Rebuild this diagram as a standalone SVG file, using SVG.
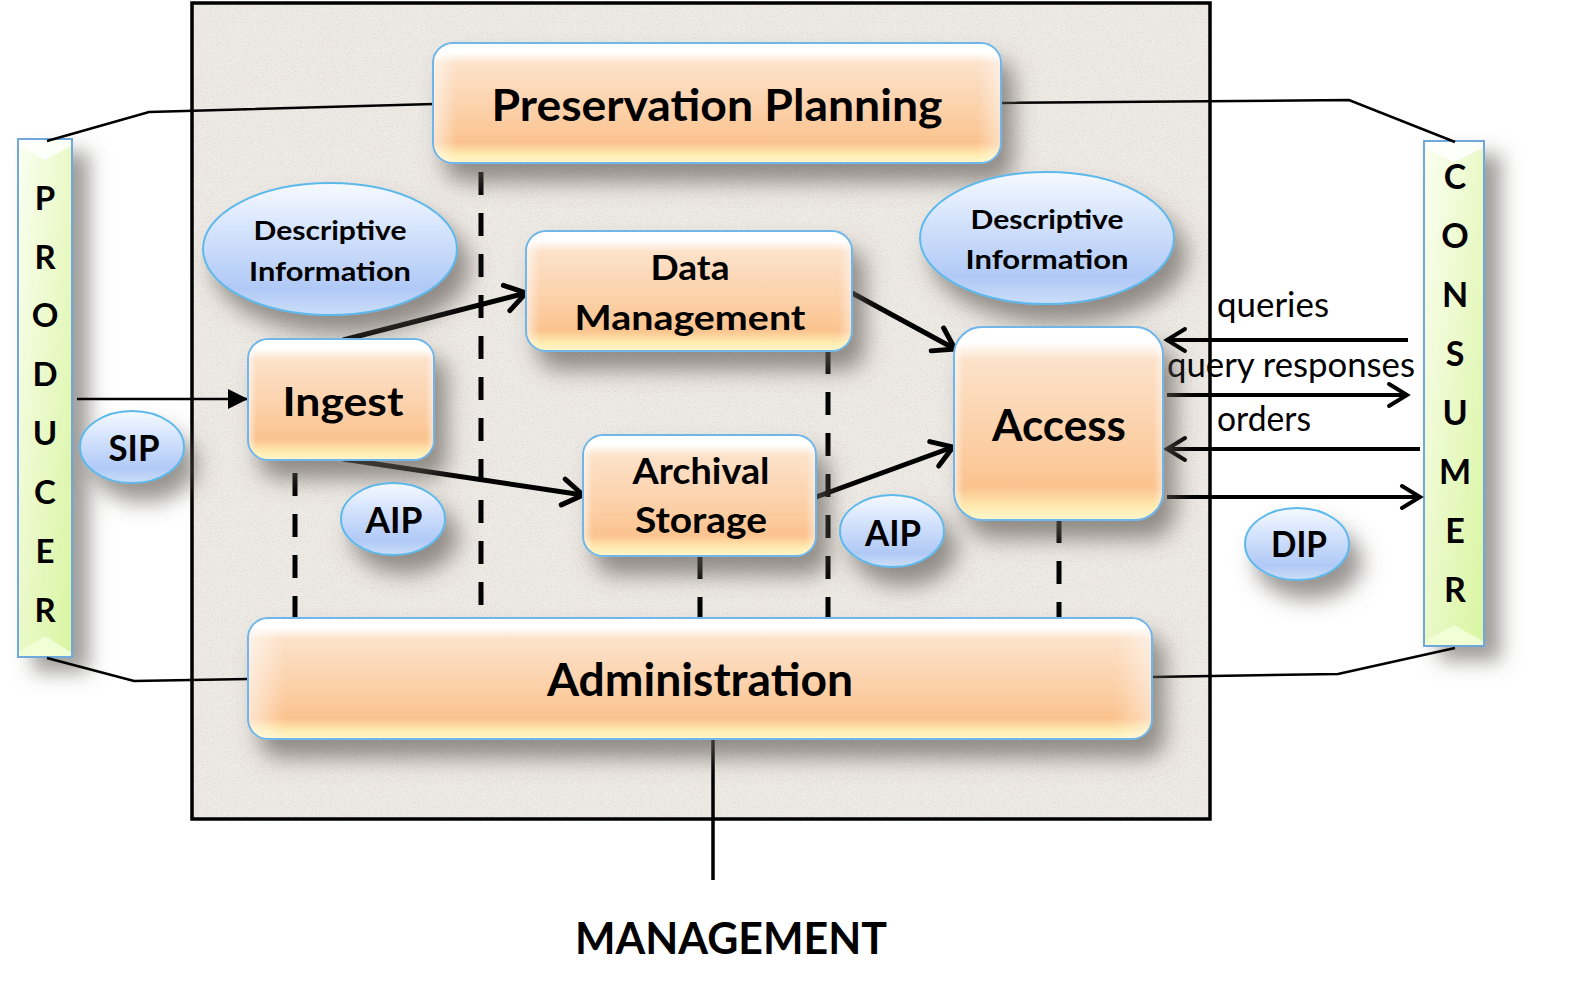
<svg xmlns="http://www.w3.org/2000/svg" width="1590" height="983" viewBox="0 0 1590 983">
<defs>
<style>
.b{font-family:Lato,"Open Sans","Liberation Sans",sans-serif;font-weight:700;fill:#000;text-anchor:middle}
.r{font-family:Lato,"Open Sans","Liberation Sans",sans-serif;font-weight:400;fill:#000}
.box{fill:url(#gBox);stroke:#6FB6EA;stroke-width:2}
.hl{fill:url(#gEdge)}
.ell{fill:url(#gEll);stroke:#5DB9EC;stroke-width:2}
.bar{fill:url(#gBar);stroke:#6FA8DC;stroke-width:2}
.ln{fill:none;stroke:#000;stroke-width:2.5}
.dash{fill:none;stroke:#000;stroke-width:5;stroke-dasharray:23 18}
.thick{fill:none;stroke:#000;stroke-width:5;marker-end:url(#vBig)}
.thin{fill:none;stroke:#000;stroke-width:4;marker-end:url(#vSmall)}
</style>
<linearGradient id="gBox" x1="0" y1="0" x2="0" y2="1">
<stop offset="0" stop-color="#FFFFFF"/>
<stop offset="0.08" stop-color="#FFFFFF"/>
<stop offset="0.17" stop-color="#FCE2CA"/>
<stop offset="0.6" stop-color="#FCCFA6"/>
<stop offset="0.83" stop-color="#FBC38E"/>
<stop offset="0.93" stop-color="#FFEBB0"/>
<stop offset="1" stop-color="#FFF7CC"/>
</linearGradient>
<linearGradient id="gEdge" x1="0" y1="0" x2="1" y2="0">
<stop offset="0" stop-color="#FFFFFF" stop-opacity="0.55"/>
<stop offset="0.04" stop-color="#FFFFFF" stop-opacity="0"/>
<stop offset="0.96" stop-color="#FFFFFF" stop-opacity="0"/>
<stop offset="1" stop-color="#FFFFFF" stop-opacity="0.45"/>
</linearGradient>
<linearGradient id="gEll" x1="0" y1="0" x2="0" y2="1">
<stop offset="0" stop-color="#F6FAFF"/>
<stop offset="0.3" stop-color="#DAE7FD"/>
<stop offset="0.8" stop-color="#B0C9F6"/>
<stop offset="1" stop-color="#CCDEF8"/>
</linearGradient>
<linearGradient id="gBar" x1="0" y1="0" x2="1" y2="1">
<stop offset="0" stop-color="#FBFFF2"/>
<stop offset="0.5" stop-color="#EAF9C8"/>
<stop offset="1" stop-color="#D8F5A0"/>
</linearGradient>
<filter id="paper" x="0" y="0" width="100%" height="100%">
<feTurbulence type="fractalNoise" baseFrequency="0.8" numOctaves="2" seed="3" result="n"/>
<feColorMatrix in="n" type="matrix" values="0 0 0 0 0.62  0 0 0 0 0.59  0 0 0 0 0.55  0 0 0 -1.5 0.8" result="spk"/>
<feComposite in="spk" in2="SourceGraphic" operator="in" result="s2"/>
<feMerge><feMergeNode in="SourceGraphic"/><feMergeNode in="s2"/></feMerge>
</filter>
<filter id="sh" x="-30%" y="-30%" width="170%" height="190%">
<feDropShadow dx="12" dy="18" stdDeviation="11" flood-color="#5E5A55" flood-opacity="0.65"/>
</filter>
<filter id="shBar" x="-100%" y="-10%" width="380%" height="125%">
<feDropShadow dx="16" dy="14" stdDeviation="10" flood-color="#5E5A55" flood-opacity="0.6"/>
</filter>
<marker id="vBig" markerUnits="userSpaceOnUse" markerWidth="34" markerHeight="34" viewBox="0 -17 34 34" refX="24" refY="0" orient="auto" overflow="visible">
<path d="M4,-13 L24,0 L4,13" fill="none" stroke="#000" stroke-width="5" stroke-linecap="round"/>
</marker>
<marker id="vSmall" markerUnits="userSpaceOnUse" markerWidth="30" markerHeight="30" viewBox="0 -15 30 30" refX="22" refY="0" orient="auto" overflow="visible">
<path d="M4,-11 L22,0 L4,11" fill="none" stroke="#000" stroke-width="4" stroke-linecap="round"/>
</marker>
<marker id="tri" markerUnits="userSpaceOnUse" markerWidth="24" markerHeight="24" viewBox="0 -12 24 24" refX="20" refY="0" orient="auto">
<path d="M0,-10 L20,0 L0,10 Z" fill="#000"/>
</marker>
</defs>

<rect width="1590" height="983" fill="#FFFFFF"/>

<g id="oais-boundary">
<rect x="192" y="3" width="1018" height="816" fill="#EEEAE5" filter="url(#paper)"/>
<rect x="192" y="3" width="1018" height="816" fill="none" stroke="#000" stroke-width="3.5"/>
</g>

<g id="producer">
<rect class="bar" x="18" y="139" width="54" height="518" filter="url(#shBar)"/>
<polygon points="19,140 71,140 71,146 45,160 19,146" fill="#FFFFFF" opacity="0.85"/>
<polygon points="19,656 71,656 71,652 45,636 19,652" fill="#F2FFD8" opacity="0.9"/>
<text class="b" font-size="33" x="45" y="210">P</text>
<text class="b" font-size="33" x="45" y="269">R</text>
<text class="b" font-size="33" x="45" y="327">O</text>
<text class="b" font-size="33" x="45" y="386">D</text>
<text class="b" font-size="33" x="45" y="445">U</text>
<text class="b" font-size="33" x="45" y="504">C</text>
<text class="b" font-size="33" x="45" y="563">E</text>
<text class="b" font-size="33" x="45" y="622">R</text>
</g>

<g id="consumer">
<rect class="bar" x="1424" y="141" width="60" height="505" filter="url(#shBar)"/>
<polygon points="1425,142 1483,142 1483,148 1454,162 1425,148" fill="#FFFFFF" opacity="0.85"/>
<polygon points="1425,645 1483,645 1483,641 1454,625 1425,641" fill="#F2FFD8" opacity="0.9"/>
<text class="b" font-size="34" x="1455" y="189">C</text>
<text class="b" font-size="34" x="1455" y="248">O</text>
<text class="b" font-size="34" x="1455" y="307">N</text>
<text class="b" font-size="34" x="1455" y="366">S</text>
<text class="b" font-size="34" x="1455" y="425">U</text>
<text class="b" font-size="34" x="1455" y="484">M</text>
<text class="b" font-size="34" x="1455" y="543">E</text>
<text class="b" font-size="34" x="1455" y="602">R</text>
</g>

<g id="connectors">
<line class="dash" x1="295" y1="473" x2="295" y2="618"/>
<line class="dash" x1="481" y1="172" x2="481" y2="618"/>
<line class="dash" x1="700" y1="556" x2="700" y2="618"/>
<line class="dash" x1="828" y1="351" x2="828" y2="618"/>
<line class="dash" x1="1059" y1="520" x2="1059" y2="618"/>
<polyline class="ln" points="47,141 149,112 434,104"/>
<polyline class="ln" points="1001,103 1349,100 1455,142"/>
<polyline class="ln" points="47,658 134,681 248,679"/>
<polyline class="ln" points="1152,677 1338,674 1455,648"/>
<line x1="713" y1="739" x2="713" y2="880" stroke="#000" stroke-width="3.5"/>
<line x1="77" y1="399" x2="248" y2="399" stroke="#000" stroke-width="2.5" marker-end="url(#tri)"/>
<line class="thick" x1="343" y1="340" x2="526" y2="293"/>
<line class="thick" x1="852" y1="293" x2="955" y2="349"/>
<line class="thick" x1="343" y1="459" x2="583" y2="495"/>
<line class="thick" x1="816" y1="497" x2="953" y2="447"/>
<line class="thin" x1="1408" y1="340" x2="1167" y2="340"/>
<line class="thin" x1="1167" y1="395" x2="1407" y2="395"/>
<line class="thin" x1="1420" y1="449" x2="1167" y2="449"/>
<line class="thin" x1="1167" y1="497" x2="1420" y2="497"/>
<text class="r" font-size="34" x="1217" y="317" textLength="112" lengthAdjust="spacingAndGlyphs">queries</text>
<text class="r" font-size="34" x="1167" y="377" textLength="248" lengthAdjust="spacingAndGlyphs">query responses</text>
<text class="r" font-size="34" x="1217" y="431" textLength="94" lengthAdjust="spacingAndGlyphs">orders</text>
</g>

<g id="preservation-planning">
<rect class="box" x="433" y="43" width="568" height="120" rx="20" filter="url(#sh)"/>
<rect class="hl" x="434" y="44" width="566" height="118" rx="19"/>
<text class="b" font-size="43" x="717" y="121" textLength="451" lengthAdjust="spacingAndGlyphs">Preservation Planning</text>
</g>

<g id="descriptive-info-left">
<ellipse class="ell" cx="330" cy="249" rx="127" ry="66" filter="url(#sh)"/>
<text class="b" font-size="27" x="330" y="240" textLength="153" lengthAdjust="spacingAndGlyphs">Descriptive</text>
<text class="b" font-size="27" x="330" y="281" textLength="162" lengthAdjust="spacingAndGlyphs">Information</text>
</g>

<g id="descriptive-info-right">
<ellipse class="ell" cx="1047" cy="238" rx="127" ry="66" filter="url(#sh)"/>
<text class="b" font-size="27" x="1047" y="229" textLength="153" lengthAdjust="spacingAndGlyphs">Descriptive</text>
<text class="b" font-size="27" x="1047" y="269" textLength="163" lengthAdjust="spacingAndGlyphs">Information</text>
</g>

<g id="ingest">
<rect class="box" x="248" y="339" width="186" height="121" rx="20" filter="url(#sh)"/>
<rect class="hl" x="249" y="340" width="184" height="119" rx="19"/>
<text class="b" font-size="41" x="343" y="416" textLength="121" lengthAdjust="spacingAndGlyphs">Ingest</text>
</g>

<g id="data-management">
<rect class="box" x="526" y="231" width="326" height="120" rx="20" filter="url(#sh)"/>
<rect class="hl" x="527" y="232" width="324" height="118" rx="19"/>
<text class="b" font-size="34" x="690" y="280" textLength="79" lengthAdjust="spacingAndGlyphs">Data</text>
<text class="b" font-size="34" x="690" y="330" textLength="231" lengthAdjust="spacingAndGlyphs">Management</text>
</g>

<g id="archival-storage">
<rect class="box" x="583" y="435" width="233" height="121" rx="20" filter="url(#sh)"/>
<rect class="hl" x="584" y="436" width="231" height="119" rx="19"/>
<text class="b" font-size="36" x="701" y="484" textLength="137" lengthAdjust="spacingAndGlyphs">Archival</text>
<text class="b" font-size="36" x="701" y="533" textLength="132" lengthAdjust="spacingAndGlyphs">Storage</text>
</g>

<g id="access">
<rect class="box" x="954" y="327" width="209" height="193" rx="28" filter="url(#sh)"/>
<rect class="hl" x="955" y="328" width="207" height="191" rx="27"/>
<text class="b" font-size="43" x="1059" y="441" textLength="134" lengthAdjust="spacingAndGlyphs">Access</text>
</g>

<g id="administration">
<rect class="box" x="248" y="618" width="904" height="121" rx="20" filter="url(#sh)"/>
<rect class="hl" x="249" y="619" width="902" height="119" rx="19"/>
<text class="b" font-size="45" x="700" y="696" textLength="306" lengthAdjust="spacingAndGlyphs">Administration</text>
</g>

<g id="sip">
<ellipse class="ell" cx="132" cy="447" rx="52" ry="36" filter="url(#sh)"/>
<text class="b" font-size="36" x="134" y="461" textLength="51" lengthAdjust="spacingAndGlyphs">SIP</text>
</g>

<g id="aip-1">
<ellipse class="ell" cx="393" cy="519" rx="52" ry="36" filter="url(#sh)"/>
<text class="b" font-size="36" x="394" y="533" textLength="57" lengthAdjust="spacingAndGlyphs">AIP</text>
</g>

<g id="aip-2">
<ellipse class="ell" cx="892" cy="531" rx="52" ry="36" filter="url(#sh)"/>
<text class="b" font-size="36" x="893" y="546" textLength="56" lengthAdjust="spacingAndGlyphs">AIP</text>
</g>

<g id="dip">
<ellipse class="ell" cx="1297" cy="544" rx="52" ry="36" filter="url(#sh)"/>
<text class="b" font-size="36" x="1299" y="557" textLength="56" lengthAdjust="spacingAndGlyphs">DIP</text>
</g>

<g id="management">
<text class="b" font-size="43" x="731" y="954" textLength="312" lengthAdjust="spacingAndGlyphs">MANAGEMENT</text>
</g>
</svg>
